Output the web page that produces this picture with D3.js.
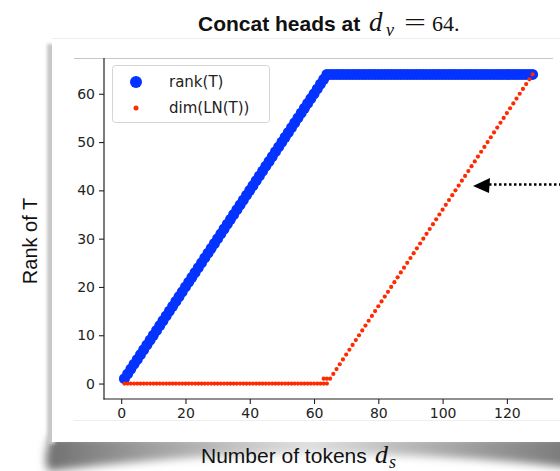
<!DOCTYPE html>
<html>
<head>
<meta charset="utf-8">
<script src="https://cdn.jsdelivr.net/npm/d3@7"></script>
<style>
  body { margin: 0; background: #fff; }
  svg { display: block; }
</style>
</head>
<body>
<svg id="chart"></svg>
<script>
// number of tokens d_s
const tokens = [
  1,2,3,4,5,6,7,8,9,10,11,12,13,14,15,16,
  17,18,19,20,21,22,23,24,25,26,27,28,29,30,31,32,
  33,34,35,36,37,38,39,40,41,42,43,44,45,46,47,48,
  49,50,51,52,53,54,55,56,57,58,59,60,61,62,63,64,
  65,66,67,68,69,70,71,72,73,74,75,76,77,78,79,80,
  81,82,83,84,85,86,87,88,89,90,91,92,93,94,95,96,
  97,98,99,100,101,102,103,104,105,106,107,108,109,110,111,112,
  113,114,115,116,117,118,119,120,121,122,123,124,125,126,127,128
];
// rank(T)
const rankT = [
  1,2,3,4,5,6,7,8,9,10,11,12,13,14,15,16,
  17,18,19,20,21,22,23,24,25,26,27,28,29,30,31,32,
  33,34,35,36,37,38,39,40,41,42,43,44,45,46,47,48,
  49,50,51,52,53,54,55,56,57,58,59,60,61,62,63,64,
  64,64,64,64,64,64,64,64,64,64,64,64,64,64,64,64,
  64,64,64,64,64,64,64,64,64,64,64,64,64,64,64,64,
  64,64,64,64,64,64,64,64,64,64,64,64,64,64,64,64,
  64,64,64,64,64,64,64,64,64,64,64,64,64,64,64,64
];
// dim(LN(T))
const dimLN = [
  0,0,0,0,0,0,0,0,0,0,0,0,0,0,0,0,
  0,0,0,0,0,0,0,0,0,0,0,0,0,0,0,0,
  0,0,0,0,0,0,0,0,0,0,0,0,0,0,0,0,
  0,0,0,0,0,0,0,0,0,0,0,0,0,0,0,0,
  1,2,3,4,5,6,7,8,9,10,11,12,13,14,15,16,
  17,18,19,20,21,22,23,24,25,26,27,28,29,30,31,32,
  33,34,35,36,37,38,39,40,41,42,43,44,45,46,47,48,
  49,50,51,52,53,54,55,56,57,58,59,60,61,62,63,64
];
// extra points around the kink
const lnExtraX = [63, 64];
const lnExtraY = [1, 1];

const xTicks = [0, 20, 40, 60, 80, 100, 120];
const yTicks = [0, 10, 20, 30, 40, 50, 60];

const width = 560, height = 471;
const blue = "#0433ff", red = "#ff2a00";

const svg = d3.select("#chart").attr("width", width).attr("height", height);
const defs = svg.append("defs");
defs.append("filter").attr("id", "blur").attr("filterUnits", "userSpaceOnUse")
  .attr("x", 0).attr("y", 400).attr("width", 600).attr("height", 100)
  .append("feGaussianBlur").attr("stdDeviation", 4);
defs.append("filter").attr("id", "blurS").attr("filterUnits", "userSpaceOnUse")
  .attr("x", 30).attr("y", 20).attr("width", 40).attr("height", 440)
  .append("feGaussianBlur").attr("stdDeviation", 1.5);
const grad = defs.append("linearGradient").attr("id", "curl").attr("x1", 0).attr("x2", 1).attr("y1", 0).attr("y2", 0);
grad.append("stop").attr("offset", "0%").attr("stop-color", "#707070");
grad.append("stop").attr("offset", "20%").attr("stop-color", "#a0a0a0");
grad.append("stop").attr("offset", "50%").attr("stop-color", "#e0e0e0");
grad.append("stop").attr("offset", "80%").attr("stop-color", "#a0a0a0");
grad.append("stop").attr("offset", "100%").attr("stop-color", "#787878");

// card shadow + card
svg.append("path").attr("d", "M50,436 L572,436 L572,468 Q310,438 50,471 Q45,470 46,455 Z")
  .attr("fill", "url(#curl)").attr("filter", "url(#blur)");
svg.append("rect").attr("x", 47).attr("y", 44).attr("width", 8).attr("height", 400)
  .attr("fill", "#c8c8c8").attr("filter", "url(#blurS)");
svg.append("rect").attr("x", 52).attr("y", 38).attr("width", 520).attr("height", 404).attr("fill", "#fff");
svg.append("line").attr("x1", 52).attr("x2", 560).attr("y1", 38.5).attr("y2", 38.5).attr("stroke", "#eee");

// edges of the pasted plot image
svg.append("line").attr("x1", 74).attr("x2", 553).attr("y1", 58.5).attr("y2", 58.5).attr("stroke", "#c8c8c8");
svg.append("line").attr("x1", 74).attr("x2", 560).attr("y1", 420.5).attr("y2", 420.5).attr("stroke", "#eeeeee");

const x = d3.scaleLinear().domain([-5.35, 134.35]).range([104, 553]);
const y = d3.scaleLinear().domain([-3.2, 67.2]).range([399, 59]);

const gx = svg.append("g").attr("transform", "translate(0,399)")
  .call(d3.axisBottom(x).tickValues(xTicks).tickSize(5).tickPadding(4));
const gy = svg.append("g").attr("transform", "translate(104,0)")
  .call(d3.axisLeft(y).tickValues(yTicks).tickSize(5).tickPadding(4));
[gx, gy].forEach(g => {
  g.select(".domain").remove();
  g.selectAll(".tick line").attr("stroke", "#222").attr("stroke-width", 1.1);
  g.selectAll(".tick text").attr("fill", "#222").style("font-family", "DejaVu Sans").style("font-size", "14px");
});
svg.append("line").attr("x1", 104).attr("x2", 104).attr("y1", 58).attr("y2", 399.5).attr("stroke", "#222").attr("stroke-width", 1.2);
svg.append("line").attr("x1", 103.5).attr("x2", 553).attr("y1", 399).attr("y2", 399).attr("stroke", "#222").attr("stroke-width", 1.2);

// series
const blueData = tokens.map((t, i) => ({ x: t, y: rankT[i] }));
const redData = tokens.map((t, i) => ({ x: t, y: dimLN[i] }))
  .concat(lnExtraX.map((t, i) => ({ x: t, y: lnExtraY[i] })));

svg.selectAll(".dotRank").data(blueData).enter().append("circle")
  .attr("cx", d => x(d.x)).attr("cy", d => y(d.y)).attr("r", 5.5).attr("fill", blue);
svg.selectAll(".dotLN").data(redData).enter().append("circle")
  .attr("cx", d => x(d.x)).attr("cy", d => y(d.y)).attr("r", 2.1).attr("fill", red);

// legend
svg.append("rect").attr("x", 112.5).attr("y", 65.5).attr("width", 157).attr("height", 57).attr("rx", 3)
  .attr("fill", "#fff").attr("fill-opacity", 0.85).attr("stroke", "#d5d5d5");
svg.append("circle").attr("cx", 136).attr("cy", 82).attr("r", 6).attr("fill", blue);
svg.append("circle").attr("cx", 136).attr("cy", 108).attr("r", 2.5).attr("fill", red);
svg.append("text").attr("x", 169).attr("y", 87).text("rank(T)")
  .style("font-family", "DejaVu Sans").style("font-size", "15px").attr("fill", "#222");
svg.append("text").attr("x", 169).attr("y", 113).text("dim(LN(T))")
  .style("font-family", "DejaVu Sans").style("font-size", "15px").attr("fill", "#222");

// dotted arrow
svg.append("line").attr("x1", 489).attr("x2", 562).attr("y1", 184.5).attr("y2", 184.5)
  .attr("stroke", "#000").attr("stroke-width", 2.5).attr("stroke-dasharray", "2.5,2.5");
svg.append("path").attr("d", "M473,186 L490,178 L489,193 Z").attr("fill", "#000");

// title
const serif = "Liberation Serif";
const title = svg.append("text").attr("y", 31).attr("fill", "#111");
title.append("tspan").attr("x", 198).text("Concat heads at")
  .style("font-family", "Liberation Sans").style("font-weight", "bold").style("font-size", "21px");
title.append("tspan").attr("x", 369).text("d").style("font-family", serif).style("font-style", "italic").style("font-size", "27px");
title.append("tspan").attr("x", 386).attr("dy", 5).text("v").style("font-family", serif).style("font-style", "italic").style("font-size", "18px");
title.append("tspan").attr("x", 404).attr("dy", -5).text("=").attr("textLength", 22).attr("lengthAdjust", "spacingAndGlyphs")
  .style("font-family", serif).style("font-size", "25px");
title.append("tspan").attr("x", 432).text("64.").style("font-family", serif).style("font-size", "22px");

// axis labels
svg.append("text").attr("transform", "translate(37,241) rotate(-90)").attr("text-anchor", "middle")
  .text("Rank of T").style("font-family", "Liberation Sans").style("font-size", "20px").attr("fill", "#111");
const xl = svg.append("text").attr("y", 463).attr("fill", "#111");
xl.append("tspan").attr("x", 201).text("Number of tokens").style("font-family", "Liberation Sans").style("font-size", "21px");
xl.append("tspan").attr("x", 375).text("d").style("font-family", serif).style("font-style", "italic").style("font-size", "26px");
xl.append("tspan").attr("x", 389).attr("dy", 5).text("s").style("font-family", serif).style("font-style", "italic").style("font-size", "18px");
</script>
</body>
</html>
